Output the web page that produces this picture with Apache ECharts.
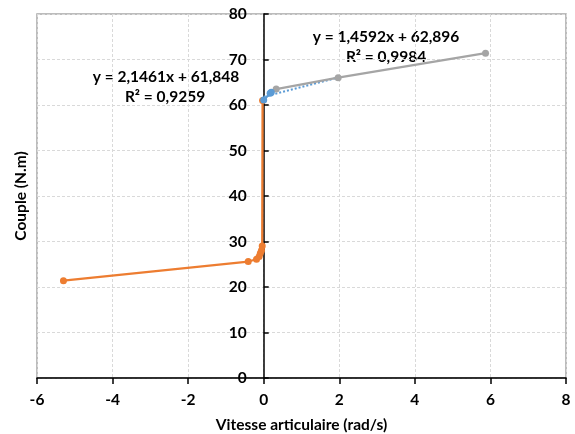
<!DOCTYPE html>
<html>
<head>
<meta charset="utf-8">
<script src="https://cdn.jsdelivr.net/npm/echarts@6/dist/echarts.min.js"></script>
<style>html,body{margin:0;padding:0;background:#fff;}#c{width:575px;height:434px;}</style>
</head>
<body>
<div id="c"></div>
<script>
// Data
const orangeData = [[-5.30, 21.4], [-0.41, 25.6], [-0.19, 26.1], [-0.12, 26.7], [-0.09, 27.4], [-0.06, 28.0], [-0.04, 29.0], [-0.03, 61.0]];
const blueData = [[0.0, 61.1], [0.17, 62.6], [0.20, 62.8]];
const grayData = [[0.33, 63.5], [1.97, 66.0], [5.87, 71.4]];
const blueTrend = [[0.0, 61.8], [2.0, 66.1]];
const xTicks = {min: -6, max: 8, interval: 2};
const yTicks = {min: 0, max: 80, interval: 10};
const eqGray = ['y = 1,4592x + 62,896', 'R² = 0,9984'];
const eqBlue = ['y = 2,1461x + 61,848', 'R² = 0,9259'];
const xTitle = 'Vitesse articulaire (rad/s)';
const yTitle = 'Couple (N.m)';

const FONT = 'Lato';
const chart = echarts.init(document.getElementById('c'), null, {renderer: 'canvas'});
const lbl = {color: '#000', fontWeight: 'bold', fontSize: 15.5, fontFamily: FONT};
const txt = (s, x, y) => ({type: 'text', x: x, y: y,
  style: {text: s, fill: '#000', font: 'bold 15.5px ' + FONT, align: 'center', verticalAlign: 'middle'}});
const GRID_LEFT = 37;
chart.setOption({
  animation: false,
  grid: {left: GRID_LEFT, right: 9, top: 14, bottom: 56, show: true, borderColor: '#a6a6a6', borderWidth: 1.5, backgroundColor: 'transparent', containLabel: false, outerBoundsMode: 'none'},
  xAxis: {
    type: 'value', min: xTicks.min, max: xTicks.max, interval: xTicks.interval,
    axisLine: {show: true, onZero: false, lineStyle: {color: '#000', width: 1.5}},
    axisTick: {show: true, length: 6, lineStyle: {color: '#000', width: 1.5}},
    axisLabel: Object.assign({margin: 14}, lbl),
    splitLine: {show: true, lineStyle: {color: '#d9d9d9', type: [3, 2], width: 1}},
    name: xTitle, nameLocation: 'middle', nameGap: 39,
    nameTextStyle: {color: '#000', fontWeight: 'bold', fontSize: 15.5, fontFamily: FONT}
  },
  yAxis: [{
    type: 'value', min: yTicks.min, max: yTicks.max, interval: yTicks.interval, position: 'left', offset: 0,
    axisLine: {show: true, onZero: false, lineStyle: {color: '#000', width: 1.5}},
    axisTick: {show: true, inside: true, length: 5, lineStyle: {color: '#000', width: 1.5}},
    axisLabel: Object.assign({margin: 17}, lbl),
    splitLine: {show: true, lineStyle: {color: '#d9d9d9', type: [3, 2], width: 1}}
  }, {
    type: 'value', min: yTicks.min, max: yTicks.max, interval: yTicks.interval, position: 'left', offset: 0,
    axisLine: {show: false, onZero: false}, axisTick: {show: false}, axisLabel: {show: false}, splitLine: {show: false},
    name: yTitle, nameLocation: 'middle', nameGap: 8,
    nameTextStyle: {color: '#000', fontWeight: 'bold', fontSize: 15.5, fontFamily: FONT}
  }],
  graphic: [
    txt(eqGray[0], 386, 37),
    txt(eqGray[1], 386, 57),
    txt(eqBlue[0], 166, 77),
    txt(eqBlue[1], 165, 97)
  ],
  series: [
    {type: 'line', data: blueTrend, symbol: 'none', lineStyle: {color: '#5b9bd5', width: 2, type: [2, 2]}, z: 2},
    {type: 'line', data: orangeData, symbol: 'circle', symbolSize: 7, itemStyle: {color: '#ed7d31'}, lineStyle: {color: '#ed7d31', width: 2.25}, z: 3},
    {type: 'line', data: grayData, symbol: 'circle', symbolSize: 7, itemStyle: {color: '#a5a5a5'}, lineStyle: {color: '#a5a5a5', width: 2.25}, z: 3},
    {type: 'line', data: blueData, symbol: 'circle', symbolSize: 7, itemStyle: {color: '#5b9bd5'}, lineStyle: {color: '#5b9bd5', width: 2.25}, z: 4}
  ]
});
// move the value axis onto x = 0 using the library's own scale
const zeroX = chart.convertToPixel({xAxisIndex: 0}, 0);
chart.setOption({yAxis: [{offset: -(zeroX - GRID_LEFT)}, {}]});
</script>
</body>
</html>
